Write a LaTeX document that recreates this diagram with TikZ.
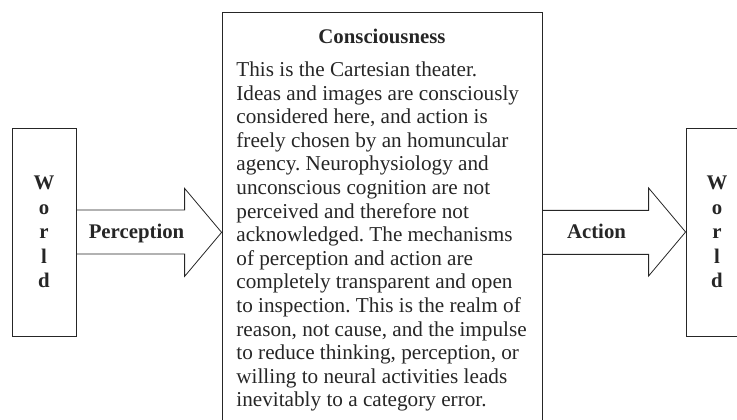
\documentclass[tikz,border=0pt]{standalone}
\usepackage{fontspec}
\setmainfont{Liberation Serif}
\usetikzlibrary{calc}

\begin{document}
\begin{tikzpicture}[x=1pt, y=1pt, line width=0.8pt, color=black!85,
    box/.style={draw, shape=rectangle, inner sep=0},
    world/.style={box, minimum width=62pt, minimum height=208pt, align=center,
    font=\fontsize{20.8}{24.5}\selectfont\bfseries},
    tag/.style={inner sep=0, font=\fontsize{20.8}{24}\selectfont\bfseries},
    prose/.style={inner sep=0, align=left,
    font=\fontsize{21.2}{23.6}\selectfont\frenchspacing}]

    \useasboundingbox (0, 0) rectangle (737, 420);
    \clip (0, 0) rectangle (737, 420);

    % Boxes
    \node[world, minimum width=64pt] (worldL) at (44, 188) {W\\o\\r\\l\\d};
    \node[world] (worldR) at (717, 188) {W\\o\\r\\l\\d};
    \node[box, minimum width=320pt, minimum height=440pt, anchor=north]
    (cons) at (382, 408) {};

    % Texts
    \node[tag, anchor=base] (title) at (382, 376) {Consciousness};
    \node[prose, anchor=base west] (body) at (236, 13) {This is the Cartesian theater.\\
    Ideas and images are consciously\\ considered here, and action is\\
    freely chosen by an homuncular\\ agency. Neurophysiology and\\
    unconscious cognition are not\\ perceived and therefore not\\
    acknowledged. The mechanisms\\ of perception and action are\\
    completely transparent and open\\ to inspection. This is the realm of\\
    reason, not cause, and the impulse\\ to reduce thinking, perception, or\\
    willing to neural activities leads\\ inevitably to a category error.};

    % Arrows
    \foreach \a/\b in {worldL/cons, cons/worldR}
        \draw (\a.east) ++(0, 22) -| ($(\b.west) + (-37, 44)$) -- (\b.west)
        -- ++(-37, -44) |- ($(\a.east) + (0, -22)$);

    \node[tag, anchor=base] (perception) at (136.5, 181.5) {Perception};
    \node[tag, anchor=base] (action) at (596.5, 181.5) {Action};

\end{tikzpicture}
\end{document}
